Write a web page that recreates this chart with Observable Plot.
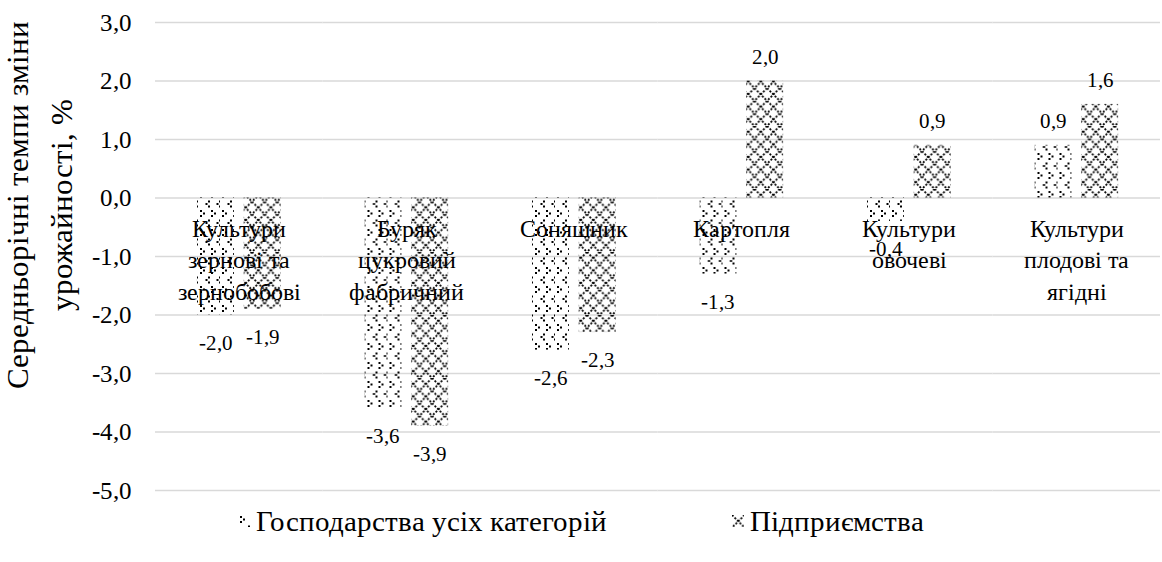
<!DOCTYPE html>
<html><head><meta charset="utf-8">
<style>
@font-face { font-family: "ChartSerif"; src: local("Liberation Serif"), local("LiberationSerif"), local("Liberation Serif Regular"), local("LiberationSerif-Regular"); }
</style>
<script src="https://cdn.jsdelivr.net/npm/d3@7"></script>
<script src="https://cdn.jsdelivr.net/npm/@observablehq/plot@0.6"></script>
</head><body style="margin:0;padding:0;background:#fff;">
<div id="wrap" style="position:relative;width:1162px;height:562px;color:#000;font-family:ChartSerif,'Liberation Serif',serif;"><div id="chart"></div><div id="legend" style="position:absolute;top:500px;left:0;width:1162px;height:42px;display:flex;justify-content:center;align-items:center;font-size:29px;white-space:nowrap;"></div></div>
<script>
const categories = ["Культури\nзернові та\nзернобобові", "Буряк\nцукровий\nфабричний", "Соняшник", "Картопля", "Культури\nовочеві", "Культури\nплодові та\nягідні"];
const seriesNames = ["Господарства усіх категорій", "Підприємства"];
const householdsAll = [-2.0, -3.6, -2.6, -1.3, -0.4, 0.9];
const enterprises = [-1.9, -3.9, -2.3, 2.0, 0.9, 1.6];
const yTicks = [-5, -4, -3, -2, -1, 0, 1, 2, 3];
const yTitle = ["Середньорічні темпи зміни", "урожайності, %"];

const fills = ["url(#pDots)", "url(#pDiamond)"];
const data = categories.flatMap((c, i) => [
  {cat: c, s: seriesNames[0], v: householdsAll[i]},
  {cat: c, s: seriesNames[1], v: enterprises[i]}
]);
const fmt = v => v.toFixed(1).replace(".", ",");
const serif = "ChartSerif, 'Liberation Serif', serif";
const setFont = el => el.style.setProperty("font-family", serif, "important");

const plot = Plot.plot({
  width: 1162, height: 500,
  marginLeft: 155, marginRight: 2, marginTop: 22, marginBottom: 10,
  style: {fontSize: "25px", color: "#000", background: "#fff", overflow: "visible"},
  fx: {domain: categories, padding: 0, axis: null, round: false},
  x: {domain: seriesNames, paddingInner: 0.21, paddingOuter: 0.895, axis: null, round: false},
  y: {domain: [-5, 3], ticks: yTicks, tickFormat: fmt, tickSize: 0, tickPadding: 24, label: null},
  marks: [
    Plot.gridY(yTicks, {stroke: "#d9d9d9", strokeOpacity: 1, strokeWidth: 1.3}),
    Plot.barY(data.filter(d => d.s === seriesNames[0]), {fx: "cat", x: "s", y: "v", fill: fills[0]}),
    Plot.barY(data.filter(d => d.s === seriesNames[1]), {fx: "cat", x: "s", y: "v", fill: fills[1]}),
    Plot.text(data.filter(d => d.v >= 0), {fx: "cat", x: "s", y: "v", text: d => fmt(d.v), dy: -24, fontSize: 21, fill: "#000", fontFamily: serif}),
    Plot.text(data.filter(d => d.v < 0), {fx: "cat", x: "s", y: "v", text: d => fmt(d.v), dy: 28, fontSize: 21, fill: "#000", fontFamily: serif}),
    Plot.text(categories, {fx: d => d, y: () => 0, text: d => d, lineAnchor: "top", dy: 17, lineHeight: 1.3, fontSize: 24, fill: "#000", fontFamily: serif})
  ]
});
document.getElementById("chart").appendChild(plot);

// pattern definitions
const svg = d3.select(plot);
const defs = svg.insert("defs", ":first-child");
const pd = defs.append("pattern").attr("id", "pDots").attr("patternUnits", "userSpaceOnUse")
  .attr("width", 22).attr("height", 19);
const dotPts = [[2,1],[13,1],[5,3.5],[16,3.5],[2,6],[13,6],[10,10.5],[21,10.5],[7.5,13],[18.5,13],[10,15.5],[21,15.5]];
dotPts.forEach(([x, y]) => pd.append("rect").attr("x", x).attr("y", y).attr("width", 2).attr("height", 2).attr("fill", "#000"));
const pm = defs.append("pattern").attr("id", "pDiamond").attr("patternUnits", "userSpaceOnUse")
  .attr("width", 12.6).attr("height", 12.6);
pm.append("path").attr("d", "M0,0L12.6,12.6M12.6,0L0,12.6").attr("stroke", "#000")
  .attr("stroke-width", 1.8).attr("stroke-dasharray", "2,1.6").attr("fill", "none");

// y-axis title
const t = svg.append("text").attr("transform", "translate(0,205) rotate(-90)")
  .attr("text-anchor", "middle").attr("font-size", 31).attr("fill", "#000");
t.append("tspan").attr("x", 0).attr("y", 28).text(yTitle[0]);
t.append("tspan").attr("x", 0).attr("y", 72).text(yTitle[1]);

setFont(plot);
plot.setAttribute("font-family", serif);
svg.selectAll("g, text, tspan").each(function() { this.setAttribute("font-family", serif); setFont(this); });

// legend
const lg = d3.select("#legend");
setFont(lg.node());
seriesNames.forEach((s, i) => {
  const it = lg.append("div").style("display", "flex").style("align-items", "center")
    .style("margin-right", i === 0 ? "125px" : "0");
  const sw = it.append("svg").attr("width", 12).attr("height", 12).style("margin-right", "6px");
  sw.append("rect").attr("width", 12).attr("height", 12).attr("fill", fills[i]);
  const sp = it.append("span").text(s);
  setFont(sp.node());
});
</script>
</body></html>
